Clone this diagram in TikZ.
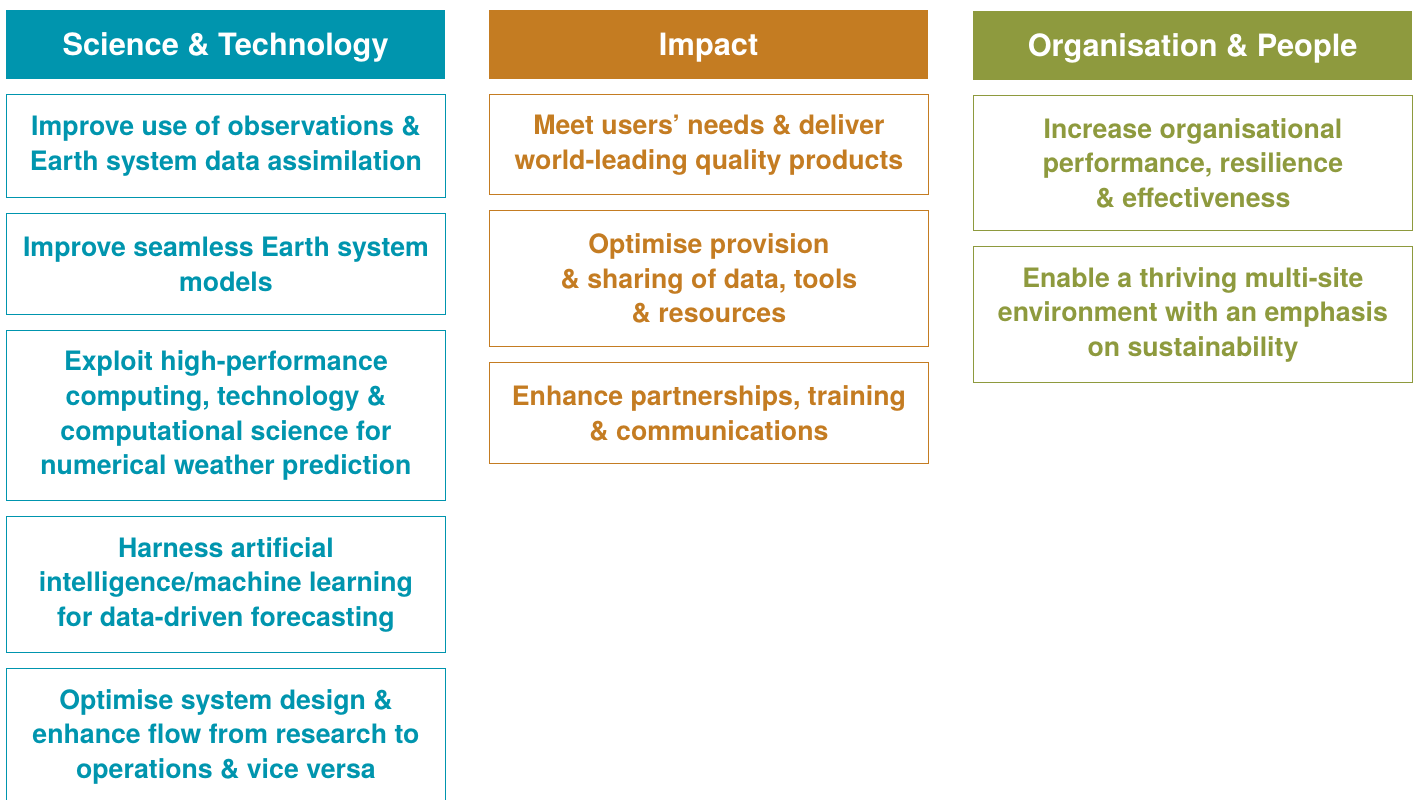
\documentclass[tikz,border=0pt]{standalone}
\usepackage{fontspec}
\setmainfont{TeX Gyre Heros}

\definecolor{scicolor}{HTML}{0095AE}
\definecolor{impcolor}{HTML}{C47C22}
\definecolor{orgcolor}{HTML}{8E9A3E}

\newcommand\headtextstyle{\fontsize{17.5}{21}\selectfont\bfseries}
\newcommand\goaltextstyle{\fontsize{15.2}{19.7}\selectfont\bfseries}
\newcommand\colwidth{8.77}

\tikzset{
  headbox/.style={anchor=north west, fill=#1, text=white, inner sep=0pt,
    text height=12.6pt, text depth=0pt,
    minimum width=\colwidth cm, minimum height=1.38cm, font=\headtextstyle},
  goalbox/.style={anchor=north west, draw=#1, text=#1, line width=0.8pt, inner sep=0pt,
    minimum width=\colwidth cm, align=center, font=\goaltextstyle},
}

\begin{document}
\begin{tikzpicture}
    \useasboundingbox (0, 0) rectangle (28.34, -15.98) ;
    \clip (0, 0) rectangle (28.34, -15.98) ;
    % column headers
    \node[headbox=scicolor] (scihead) at (0.12, -0.2) {Science \& Technology} ;
    \node[headbox=impcolor] (imphead) at (9.78, -0.2) {Impact} ;
    \node[headbox=orgcolor] (orghead) at (19.46, -0.22) {Organisation \& People} ;
    % science & technology
    \node[goalbox=scicolor, minimum height=2.06cm] (sciobs) at (0.12, -1.88)
      {Improve use of observations \&\\Earth system data assimilation} ;
    \node[goalbox=scicolor, minimum height=2.02cm] (scimodel) at (0.12, -4.26)
      {Improve seamless Earth system\\models} ;
    \node[goalbox=scicolor, minimum height=3.4cm] (scihpc) at (0.12, -6.6)
      {Exploit high-performance\\computing, technology \&\\computational science for\\numerical weather prediction} ;
    \node[goalbox=scicolor, minimum height=2.72cm] (sciai) at (0.12, -10.32)
      {Harness artificial\\intelligence/machine learning\\for data-driven forecasting} ;
    \node[goalbox=scicolor, minimum height=2.72cm] (sciops) at (0.12, -13.36)
      {Optimise system design \&\\enhance flow from research to\\operations \& vice versa} ;
    % impact
    \node[goalbox=impcolor, minimum height=2.0cm] (impusers) at (9.78, -1.88)
      {Meet users’ needs \& deliver\\world-leading quality products} ;
    \node[goalbox=impcolor, minimum height=2.72cm] (impdata) at (9.78, -4.2)
      {Optimise provision\\\& sharing of data, tools\\\& resources} ;
    \node[goalbox=impcolor, minimum height=2.02cm] (imppart) at (9.78, -7.24)
      {Enhance partnerships, training\\\& communications} ;
    % organisation & people
    \node[goalbox=orgcolor, minimum height=2.7cm] (orgperf) at (19.46, -1.9)
      {Increase organisational\\performance, resilience\\\& effectiveness} ;
    \node[goalbox=orgcolor, minimum height=2.72cm] (orgsite) at (19.46, -4.92)
      {Enable a thriving multi-site\\environment with an emphasis\\on sustainability} ;
\end{tikzpicture}
\end{document}
